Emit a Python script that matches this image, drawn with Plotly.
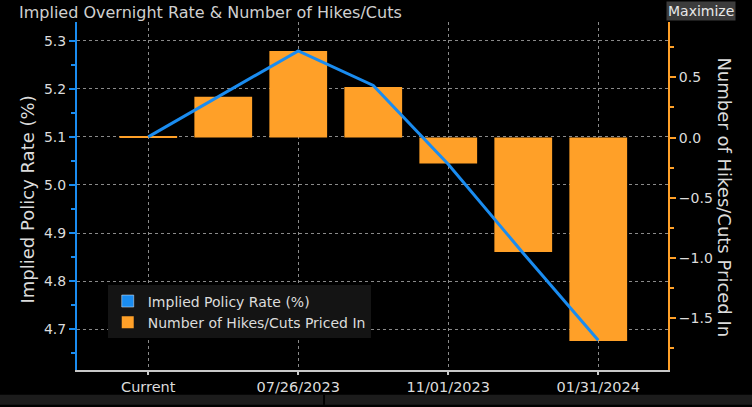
import plotly.graph_objects as go

dates = ["Current", "06/14/2023", "07/26/2023", "09/20/2023",
         "11/01/2023", "12/13/2023", "01/31/2024"]
rate = [5.10, 5.19, 5.279, 5.207, 5.043, 4.858, 4.677]
hikes = [0.01, 0.34, 0.72, 0.42, -0.215, -0.95, -1.69]
tick_dates = ["Current", "07/26/2023", "11/01/2023", "01/31/2024"]

blue = "#1a8cf0"
orange = "#ffa028"
txt = "#dcdcdc"
font = "DejaVu Sans"

fig = go.Figure()

fig.add_trace(go.Bar(x=dates, y=[None] * len(dates), name="Implied Policy Rate (%)",
                     marker_color=blue, yaxis="y", hoverinfo="skip"))
fig.add_trace(go.Bar(x=dates, y=hikes, name="Number of Hikes/Cuts Priced In",
                     marker_color=orange, marker_line_width=0, width=0.77, yaxis="y"))
fig.add_trace(go.Scatter(x=dates, y=rate, mode="lines", name="Implied Policy Rate (%)",
                         line=dict(color=blue, width=3), yaxis="y2", showlegend=False))

fig.update_layout(
    width=752, height=407,
    margin=dict(l=77, r=84, t=22, b=35),
    paper_bgcolor="black", plot_bgcolor="black",
    font=dict(family=font, size=14, color=txt),
    barmode="overlay",
    showlegend=True,
    legend=dict(x=0.052, y=0.243, xanchor="left", yanchor="top",
                bgcolor="#141414", font=dict(size=14, color=txt),
                traceorder="normal", itemwidth=30, tracegroupgap=0),
    xaxis=dict(type="category", range=[-0.95, 6.93],
               tickvals=tick_dates, ticktext=tick_dates,
               showgrid=True, gridcolor="#8a8a8a", griddash="dot", gridwidth=1,
               showline=True, linecolor="#c8c8c8", linewidth=2,
               ticks="outside", ticklen=3, tickcolor="#c8c8c8", tickwidth=2,
               tickfont=dict(size=14.5, color=txt), zeroline=False),
    yaxis=dict(side="right", range=[-1.93, 0.96], dtick=0.5, tick0=0,
               tickformat=".1f", showgrid=False, zeroline=False,
               showline=True, linecolor=orange, linewidth=2,
               ticks="outside", ticklen=6, tickwidth=2, tickcolor=orange,
               minor=dict(dtick=0.25, ticks="outside", ticklen=4, tickcolor=orange),
               tickfont=dict(size=14, color=txt)),
    yaxis2=dict(side="left", overlaying="y", range=[4.615, 5.339], dtick=0.1, tick0=4.7,
                tickformat=".1f", showgrid=True, gridcolor="#8a8a8a", griddash="dot",
                gridwidth=1, zeroline=False,
                showline=True, linecolor=blue, linewidth=2,
                ticks="outside", ticklen=6, tickwidth=2, tickcolor=blue,
                minor=dict(dtick=0.05, ticks="outside", ticklen=4, tickcolor=blue),
                tickfont=dict(size=14, color=txt)),
)

fig.add_annotation(text="Implied Policy Rate (%)", textangle=-90,
                   xref="paper", yref="paper", x=(27 - 77) / 591, y=0.49,
                   xanchor="center", yanchor="middle", showarrow=False,
                   font=dict(size=18, color=txt))
fig.add_annotation(text="Number of Hikes/Cuts Priced In", textangle=90,
                   xref="paper", yref="paper", x=(725 - 77) / 591, y=0.496,
                   xanchor="center", yanchor="middle", showarrow=False,
                   font=dict(size=18, color=txt))
fig.add_annotation(text="Implied Overnight Rate & Number of Hikes/Cuts",
                   xref="paper", yref="paper", x=(17 - 77) / 591, y=(372 - 1) / 350,
                   xanchor="left", yanchor="top", showarrow=False,
                   font=dict(size=16, color="#d0d0d0"))
fig.add_annotation(text="Maximize", xref="paper", yref="paper",
                   x=(736 - 77) / 591, y=(372 - 1) / 350,
                   xanchor="right", yanchor="top", showarrow=False,
                   bgcolor="#3c3c3c", borderpad=1,
                   font=dict(size=14, color="#e8e8e8"))

# bottom strip of the terminal window
fig.add_shape(type="rect", xref="paper", yref="paper", x0=-0.14, x1=1.15,
              y0=-0.1, y1=-0.0714, fillcolor="#1c1c1c", line_width=0, layer="below")
fig.add_shape(type="line", xref="paper", yref="paper", x0=0.418, x1=0.418,
              y0=-0.1, y1=-0.0714, line=dict(color="black", width=2))

fig.write_html("out.html", config={"displayModeBar": False},
               post_script="document.body.style.margin='0px';"
                           "document.body.style.background='black';")
